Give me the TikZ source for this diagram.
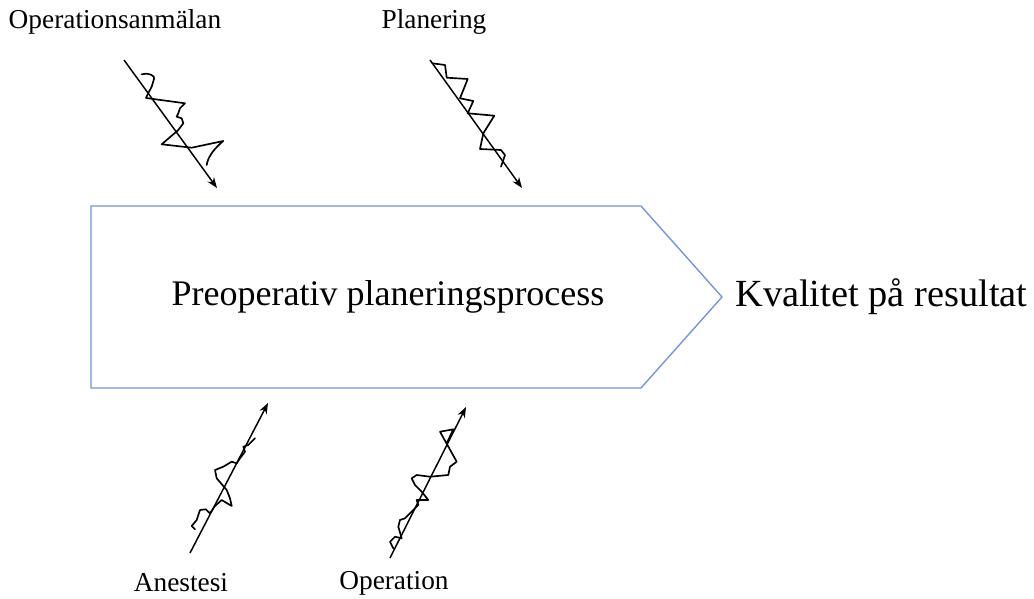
\documentclass[tikz,border=0pt]{standalone}
\usepackage{fontspec}
\setmainfont{Liberation Serif}
\usetikzlibrary{arrows.meta}
\definecolor{procblue}{RGB}{108,148,220}
\begin{document}
\begin{tikzpicture}[x=0.75pt,y=-0.75pt,
  lbl/.style={inner sep=0pt,font=\fontsize{20.5}{24}\selectfont},
  big/.style={inner sep=0pt,font=\fontsize{27}{32}\selectfont},
  force/.style={line width=1.1pt,-{Stealth[length=8pt,width=6pt]}},
  noise/.style={line width=1.25pt,line join=round,line cap=round}]
\useasboundingbox (0,0) rectangle (1034,599);

% process arrow
\draw[procblue,line width=1pt] (91,206) -- (641,206) -- (722,297) -- (641,388) -- (91,388) -- cycle;
\node[big] (proc) at (388,297) {Preoperativ planeringsprocess};
\node[big,anchor=west,font=\fontsize{28.8}{33}\selectfont] (res) at (735,297) {Kvalitet på resultat};

% influence labels
\node[lbl] (op1) at (115,22) {Operationsanmälan};
\node[lbl] (pl) at (434,22) {Planering};
\node[lbl] (an) at (181,583) {Anestesi};
\node[lbl] (op2) at (394,583) {Operation};

% arrow ends
\coordinate (a1s) at (124,60);  \coordinate (a1e) at (217,188);
\coordinate (a2s) at (430,60);  \coordinate (a2e) at (522,188);
\coordinate (a3s) at (190,553); \coordinate (a3e) at (268,403);
\coordinate (a4s) at (390,558); \coordinate (a4e) at (466,407);

\draw[force] (a1s) -- (a1e);
\draw[force] (a2s) -- (a2e);
\draw[force] (a3s) -- (a3e);
\draw[force] (a4s) -- (a4e);

% disturbance squiggles
\draw[noise] (141.7,74.3) .. controls (148,72) and (156,76) .. (154,79) -- (151.7,86.7) -- (147.3,95)
  -- (146,98) -- (185,103.3) -- (180,108.3) -- (178.3,113.3) -- (176.7,116.7) -- (181.7,118.3)
  -- (183.3,123.3) -- (178.3,130) -- (161.7,144.3) -- (191.7,147.7) -- (223.3,141)
  .. controls (215,148) and (208,156) .. (206.7,165);
\draw[noise] (432.3,63.3) -- (445,65) -- (446.7,77.7) -- (467.7,79) -- (460,98.3)
  -- (473.3,101) -- (467.7,113.3) -- (494.3,115.7) -- (483.3,133.3) -- (480,149)
  -- (501,150) -- (505,155) -- (501,166.7);
\draw[noise] (195,529.3) -- (191.7,526) -- (196.7,520) -- (200,510) -- (205.7,509.3)
  -- (210,513.3) -- (215,506) -- (221.7,500) -- (231.7,506) -- (230,498.3) -- (226.7,490)
  -- (216.7,478.3) -- (215,470) -- (223.3,466.7) -- (231.7,461.7) -- (236.7,463.3)
  -- (240,458.3) -- (245,451.7) -- (243.3,446.7) -- (248.3,445) -- (255,438.3);
\draw[noise] (393.3,548.3) -- (390,541.7) -- (395,536.7) -- (401.7,538.3) -- (398.3,526.7)
  -- (400,520) -- (405,518.3) -- (413.3,510) -- (418.3,505) -- (416.7,500) -- (428.3,500)
  -- (421.7,491.7) -- (415,485) -- (411.7,478.3) -- (416.7,475) -- (430,476.7) -- (448.3,475)
  -- (450,466.7) -- (456.7,461.7) -- (440,431.7) -- (453.3,429.3) -- (446.7,443.3);
\end{tikzpicture}
\end{document}
